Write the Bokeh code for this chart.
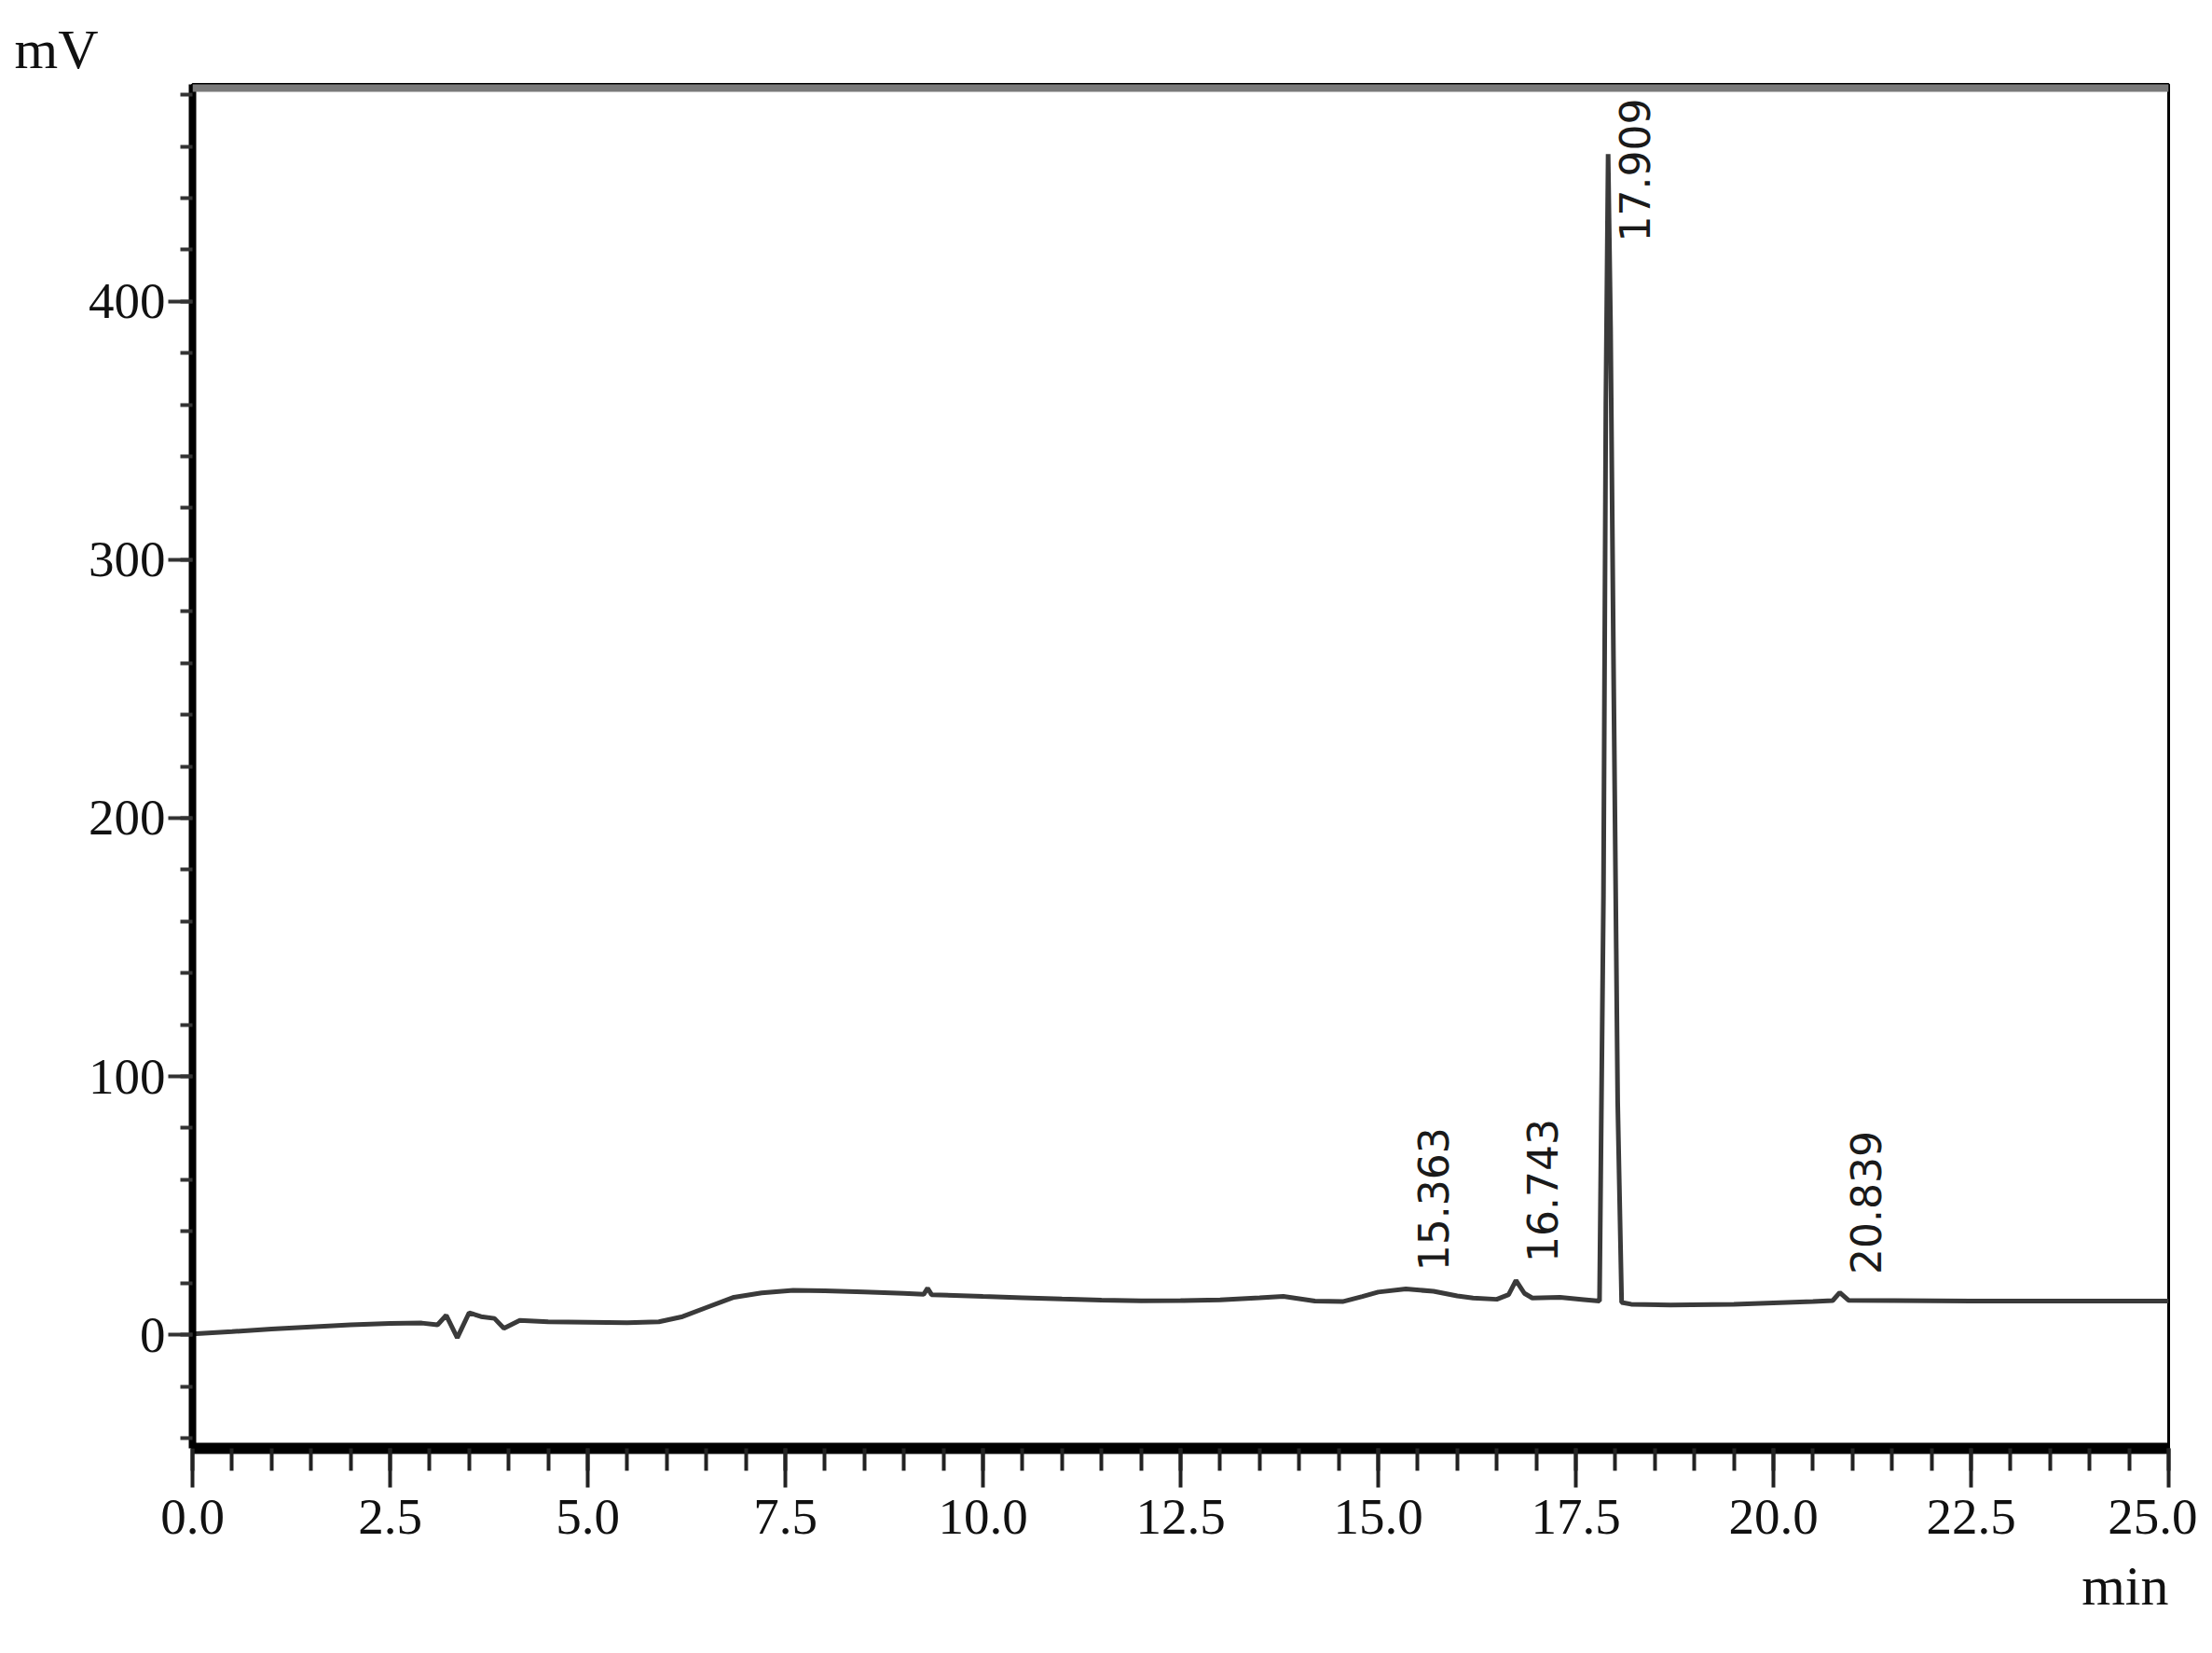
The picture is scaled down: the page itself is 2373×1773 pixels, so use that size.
import math
from bokeh.plotting import figure
from bokeh.models import Range1d, SingleIntervalTicker, PrintfTickFormatter, Title, Span, ColumnDataSource
from bokeh.core.properties import value
from bokeh.embed import file_html
from bokeh.resources import INLINE

# ---- data ----
time_min = [0.0, 0.5, 1.0, 1.5, 2.0, 2.5, 2.9, 3.1, 3.21, 3.35, 3.5, 3.65, 3.82, 3.94, 4.14,
            4.5, 5.0, 5.5, 5.9, 6.2, 6.5, 6.85, 7.2, 7.6, 8.0, 8.5, 9.0, 9.25, 9.3, 9.35,
            10.0, 10.5, 11.0, 11.5, 12.0, 12.5, 13.0, 13.5, 13.8, 14.2, 14.55, 14.8, 15.0,
            15.35, 15.7, 16.0, 16.2, 16.5, 16.65, 16.743, 16.85, 16.95, 17.3, 17.6, 17.80,
            17.85, 17.88, 17.909, 17.94, 17.98, 18.03, 18.08, 18.2, 18.7, 19.5, 20.0, 20.5,
            20.75, 20.839, 20.95, 21.5, 22.5, 23.5, 25.0]
signal_mv = [0.3, 1.2, 2.2, 3.0, 3.8, 4.4, 4.5, 3.8, 7.5, -1.2, 8.5, 7.0, 6.3, 2.5, 5.5,
             5.0, 4.8, 4.6, 5.0, 7.0, 10.5, 14.5, 16.2, 17.2, 17.0, 16.5, 16.0, 15.6, 18.0, 15.5,
             14.8, 14.3, 13.8, 13.4, 13.1, 13.2, 13.5, 14.3, 14.8, 13.0, 12.8, 14.8, 16.5,
             17.7, 16.8, 15.0, 14.2, 13.7, 15.5, 21.0, 16.0, 14.2, 14.5, 13.6, 13.0,
             170.0, 360.0, 457.0, 390.0, 250.0, 90.0, 12.5, 11.8, 11.5, 11.8, 12.3, 12.8,
             13.2, 16.3, 13.3, 13.2, 13.0, 13.0, 13.0]

peak_times = [15.363, 16.743, 17.909, 20.839]
peak_heights = [17.7, 21.0, 457.0, 16.3]
peak_labels = ["15.363", "16.743", "17.909", "20.839"]

x_ticks_interval = 2.5
y_ticks_interval = 100

# ---- figure ----
p = figure(width=2357, height=1757, x_range=Range1d(0, 25), y_range=Range1d(-44, 484),
           output_backend="svg", toolbar_location=None,
           min_border_left=206, min_border_right=31, min_border_top=90, min_border_bottom=204,
           background_fill_color="white", border_fill_color="white")
p.grid.visible = False
p.outline_line_color = "black"
p.outline_line_width = 3

serif = "Liberation Serif"

xa = p.xaxis[0]
xa.ticker = SingleIntervalTicker(interval=x_ticks_interval, num_minor_ticks=5)
xa.formatter = PrintfTickFormatter(format="%.1f")
xa.axis_line_color = "black"
xa.axis_line_width = 12
xa.major_tick_in = 0
xa.major_tick_out = 42
xa.minor_tick_in = 0
xa.minor_tick_out = 24
xa.major_tick_line_width = 4
xa.minor_tick_line_width = 4
xa.major_tick_line_color = "#222222"
xa.minor_tick_line_color = "#222222"
xa.major_label_text_font = serif
xa.major_label_text_font_size = "55px"
xa.major_label_text_color = "#111111"
xa.major_label_standoff = 13

ya = p.yaxis[0]
ya.ticker = SingleIntervalTicker(interval=y_ticks_interval, num_minor_ticks=5)
ya.formatter = PrintfTickFormatter(format="%d")
ya.axis_line_color = "black"
ya.axis_line_width = 8
ya.major_tick_in = 0
ya.major_tick_out = 26
ya.minor_tick_in = 0
ya.minor_tick_out = 13
ya.major_tick_line_width = 4
ya.minor_tick_line_width = 4
ya.major_tick_line_color = "#333333"
ya.minor_tick_line_color = "#333333"
ya.major_label_text_font = serif
ya.major_label_text_font_size = "55px"
ya.major_label_text_color = "#111111"
ya.major_label_standoff = 3

# top border (grey, thick)
p.add_layout(Span(location=484, dimension="width", line_color="#7a7a7a", line_width=16))

# trace
src = ColumnDataSource(dict(t=time_min, v=signal_mv))
p.line("t", "v", source=src, line_color="#3a3a3a", line_width=5)

# peak labels (rotated)
top_limit = 423.0
lab_x = [t + 0.33 for t in peak_times]
lab_y = [min(h + 7.0, top_limit) for h in peak_heights]
p.text(x=lab_x, y=lab_y, text=peak_labels, angle=math.pi / 2,
       text_font=value("DejaVu Sans"), text_font_size="44px",
       text_align="left", text_baseline="middle", text_color="#1a1a1a")

# unit labels
p.add_layout(Title(text="mV", align="left", offset=-191, standoff=10,
                   text_font=serif, text_font_size="60px", text_font_style="normal",
                   text_color="#111111"), "above")
p.add_layout(Title(text="min", align="right", offset=0, standoff=36,
                   text_font=serif, text_font_size="60px", text_font_style="normal",
                   text_color="#111111"), "below")

open("out.html", "w").write(file_html(p, INLINE))
